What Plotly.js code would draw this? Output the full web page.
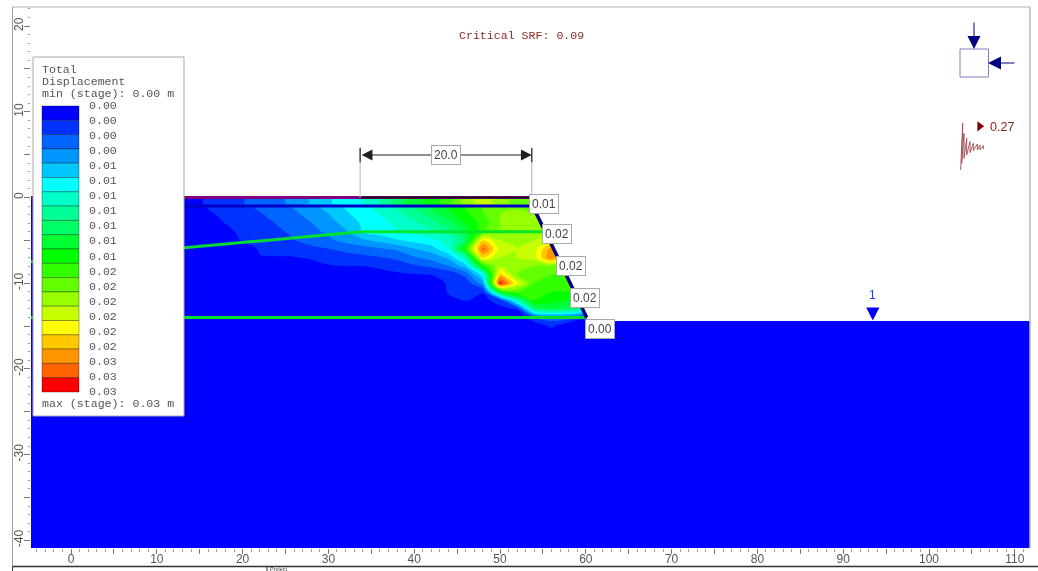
<!DOCTYPE html>
<html>
<head>
<meta charset="utf-8">
<script src="https://cdn.plot.ly/plotly-3.0.1.min.js"></script>
<style>html,body{margin:0;padding:0;background:#fff}#chart{width:1038px;height:571px;filter:blur(0.35px)}</style>
</head>
<body>
<div id="chart"></div>
<script>
// ---- data (metres) ----
const bandColors = ['#0000ff','#0032ff','#0064ff','#0096ff','#00c8ff','#00ffff','#00ffc8','#00ff96','#00ff64','#00ff32',
                    '#00ff00','#32ff00','#64ff00','#96ff00','#c8ff00','#ffff00','#ffc800','#ff9600','#ff6400','#ff0000'];
const bandLabels = ['0.00','0.00','0.00','0.00','0.01','0.01','0.01','0.01','0.01','0.01','0.01',
                    '0.02','0.02','0.02','0.02','0.02','0.02','0.03','0.03','0.03'];
const gridX = [12,14,16,18,20,22,24,26,28,30,32,34,36,38,40,42,44,46,48,50,52,54,56,58,60];
const gridY = [0,-0.9,-1.1,-2,-3,-4,-5,-6,-7,-8,-9,-10,-11,-12,-13,-14,-15,-16];
// displacement, in contour-interval units (one unit = one legend band)
const dispZ = [
[0,0.5,1.2,1.6,1.95,2.3,2.7,3.3,4.1,4.9,5.3,6,7,8.5,9.5,10.5,11.5,13.5,14.5,13.5,12.5,12,12,12,12],
[0,0.5,1.2,1.6,1.95,2.3,2.7,3.3,4.1,4.9,5.3,6,7,8.5,9.5,10.5,11.5,13.5,14.5,13.5,12.5,12,12,12,12],
[0,0.5,1.06,1.42,1.79,2.18,2.62,3.08,3.73,4.4,5.11,5.74,6.43,7.2,8.08,9.3,10.15,11.07,12.2,12.5,12.8,12.5,12,12,12],
[0,0.45,0.85,1.2,1.56,1.9,2.32,2.78,3.32,3.93,4.8,5.43,6,6.68,7.45,8.4,9.53,10.73,11.87,13,13.5,13,13,13,13],
[0,0.3,0.7,1.02,1.37,1.7,2.05,2.51,2.97,3.57,4.33,5.16,5.69,6.23,6.8,7.55,8.53,10.08,11.4,13,13.2,13.2,13,13,13],
[0,0.15,0.5,0.8,1.17,1.49,1.81,2.2,2.69,3.21,3.86,5.03,5.47,5.92,6.35,6.78,7.47,9.14,12,13,13.5,13.5,14,13,13],
[0,0,0,0.7,1.05,1.36,1.66,1.96,2.4,2.8,3.3,3.8,4.33,4.9,5.35,5.78,6.36,8.5,16,14,14,14,14.5,13,13],
[0,0,0,0,0.5,1.1,1.3,1.5,1.75,1.98,2.3,2.55,2.9,3.2,3.95,4.5,6,11,18.5,14.5,14,14.5,17.5,14,13],
[0,0,0,0,0,0.95,0.95,0.95,1.15,1.3,1.5,1.75,1.95,2.2,2.9,3.4,4.2,7,16,14,14,14.5,18,14,13],
[0,0,0,0,0,0,0,0,0.5,0.95,1.02,1.02,1.2,1.5,1.85,2.2,3,4.5,11,14,13.5,13,13,12.5,12.5],
[0,0,0,0,0,0,0,0,0,0,0,0.3,0.6,0.8,0.92,1.02,1.2,2.3,5.5,16.5,13,12.5,12,12,12],
[0,0,0,0,0,0,0,0,0,0,0,0,0,0,0.3,0.6,1.1,1.4,3.5,19.6,15,12,11.5,11.5,11.5],
[0,0,0,0,0,0,0,0,0,0,0,0,0,0,0,0.2,1.1,1.3,1.05,10,12,12,11,11,11],
[0,0,0,0,0,0,0,0,0,0,0,0,0,0,0,0,0.8,1.05,0.8,1.3,7,11,10.5,10,10],
[0,0,0,0,0,0,0,0,0,0,0,0,0,0,0,0,0,0.2,0,0.8,1.1,8,9,8.5,7],
[0,0,0,0,0,0,0,0,0,0,0,0,0,0,0,0,0,0,0,0,0,2,2.5,2.5,1],
[0,0,0,0,0,0,0,0,0,0,0,0,0,0,0,0,0,0,0,0,0,0,1.3,0,0],
[0,0,0,0,0,0,0,0,0,0,0,0,0,0,0,0,0,0,0,0,0,0,0,0,0]
];
const soilX = [-4.66,53.7,54.3,56.6,58.4,60.1,60.3,111.77,111.77,-4.66];
const soilY = [0,0,-2,-6.7,-10.4,-14,-14.4,-14.4,-40.9,-40.9];
const airX = [53.7,53.7,54.3,56.6,58.4,60.1,60.3,63,63];
const airY = [1,0,-2,-6.7,-10.4,-14,-14.4,-14.4,1];
const slopeX = [53.7,54.3,56.6,58.4,60.1];
const slopeY = [-1,-2,-6.7,-10.4,-14];
const surfaceX = [-4.66,53.7];
const surfaceY = [0,0];
const loadX = [33.7,53.7];
const loadY = [0,0];
const layerTopX = [-4.66,53.7];
const layerTopY = [-1,-1];
const layerMidX = [-4.66,13.9,33.7,55];
const layerMidY = [-7.5,-5.8,-4,-4];
const layerLowX = [-4.66,60];
const layerLowY = [-14,-14];
const seismicX = [103.69,103.93,103.81,104.08,104.08,104.39,104.39,104.78,104.78,105.17,105.17,105.64,105.64,105.95,105.95,106.34,106.34];
const seismicY = [3.21,8.66,3.99,7.49,4.58,6.91,4.96,6.52,5.24,6.33,5.47,6.25,5.55,6.13,5.55,6.05,5.66];
const waterMarkX = [92.68,94.22,93.45];
const waterMarkY = [-12.85,-12.85,-14.35];
const edgeLabels = ['0.01','0.02','0.02','0.02','0.00'];
const edgeLabelX = [55.1,56.7,58.3,59.9,61.6];
const edgeLabelY = [-0.8,-4.2,-8,-11.7,-15.3];
const xTicks = [0,5,10,15,20,25,30,35,40,45,50,55,60,65,70,75,80,85,90,95,100,105,110];
const yTicks = [-40,-35,-30,-25,-20,-15,-10,-5,0,5,10,15,20];

// ---- layout helpers ----
const W = 1038, H = 571, L = 31, R = 1030, T = 7, B = 548;
const px = x => (x - L) / (R - L);
const py = y => (B - y) / (B - T);
const mono = 'Liberation Mono, monospace';
const sans = 'Liberation Sans, Arial, sans-serif';
const steps = [];
bandColors.forEach((c, i) => { steps.push([i / 20, c]); steps.push([(i + 1) / 20, c]); });

const line = (x, y, color, width) => ({x, y, type: 'scatter', mode: 'lines', line: {color, width}, hoverinfo: 'skip', showlegend: false});

const traces = [
  {type: 'contour', x: gridX, y: gridY, z: dispZ, zmin: 0, zmax: 20, colorscale: steps, showscale: false,
   autocontour: false, contours: {start: 1, end: 19, size: 1, coloring: 'fill', showlines: false},
   line: {width: 0}, hoverinfo: 'skip', showlegend: false},
  {x: airX, y: airY, type: 'scatter', mode: 'none', fill: 'toself', fillcolor: '#ffffff', hoverinfo: 'skip', showlegend: false},
  line(layerMidX, layerMidY, 'rgba(0,230,40,0.95)', 3),
  line(layerLowX, layerLowY, '#00e030', 3),
  line(layerTopX, layerTopY, '#0000c8', 3),
  line(surfaceX, surfaceY, '#800080', 3),
  line(loadX, loadY, '#201020', 2),
  line(slopeX, slopeY, '#000080', 3.5),
  line(seismicX, seismicY, '#a04a50', 0.9),
  {x: [105.9], y: [8.3], type: 'scatter', mode: 'markers', marker: {symbol: 'triangle-right', size: 9, color: '#800000'}, hoverinfo: 'skip', showlegend: false},
  {x: waterMarkX, y: waterMarkY, type: 'scatter', mode: 'none', fill: 'toself', fillcolor: '#0000ff', hoverinfo: 'skip', showlegend: false}
];

const shapes = [
  {type: 'path', xref: 'x', yref: 'y', layer: 'below', fillcolor: '#0000ff', line: {width: 0},
   path: 'M' + soilX.map((x, i) => x + ' ' + soilY[i]).join(' L') + ' Z'},
  // frame
  {type: 'line', xref: 'paper', yref: 'paper', x0: px(12.5), x1: px(1030), y0: py(7), y1: py(7), line: {color: '#b0b0b0', width: 1}},
  {type: 'line', xref: 'paper', yref: 'paper', x0: px(12.5), x1: px(12.5), y0: py(7), y1: py(566), line: {color: '#a0a0a0', width: 1}},
  {type: 'line', xref: 'paper', yref: 'paper', x0: px(1030), x1: px(1030), y0: py(7), y1: py(548), line: {color: '#b8b8b8', width: 1.5}},
  {type: 'line', xref: 'paper', yref: 'paper', x0: px(12.5), x1: px(1038), y0: py(566.5), y1: py(566.5), line: {color: '#303030', width: 1.3}},
  {type: 'line', xref: 'paper', yref: 'paper', x0: px(12.5), x1: px(12.5), y0: py(566.5), y1: py(571), line: {color: '#303030', width: 1}},
  {type: 'line', xref: 'paper', yref: 'paper', x0: px(267), x1: px(267), y0: py(566.5), y1: py(571), line: {color: '#303030', width: 1}},
  // dimension witness lines
  {type: 'line', x0: 33.7, x1: 33.7, y0: 0, y1: 5.7, line: {color: '#c4c4c4', width: 1.2}},
  {type: 'line', x0: 53.7, x1: 53.7, y0: 0, y1: 5.7, line: {color: '#c4c4c4', width: 1.2}},
  {type: 'line', x0: 33.7, x1: 33.7, y0: 4.1, y1: 5.8, line: {color: '#303030', width: 1.3}},
  {type: 'line', x0: 53.7, x1: 53.7, y0: 4.1, y1: 5.8, line: {color: '#303030', width: 1.3}},
  // stress box
  {type: 'rect', xref: 'paper', yref: 'paper', x0: px(960), x1: px(988.5), y0: py(77), y1: py(49), line: {color: '#8080c8', width: 1}, fillcolor: '#ffffff'},
  // legend box
  {type: 'rect', xref: 'paper', yref: 'paper', x0: px(33), x1: px(184), y0: py(416), y1: py(57), line: {color: '#a8a8a8', width: 1}, fillcolor: '#ffffff'}
];
bandColors.forEach((c, i) => {
  const h = 286 / 20;
  shapes.push({type: 'rect', xref: 'paper', yref: 'paper', x0: px(42), x1: px(79),
    y0: py(106 + i * h), y1: py(106 + (i + 1) * h), fillcolor: c, line: {color: 'rgba(0,0,0,0.55)', width: 0.6}});
});

const noteP = (x, y, text, size, color, family, anchor) => ({xref: 'paper', yref: 'paper', x: px(x), y: py(y), text, showarrow: false,
  xanchor: anchor || 'left', yanchor: 'middle', font: {size, color, family}});
const annotations = [
  noteP(521, 35.5, 'Critical SRF: 0.09', 11.6, '#8b2a2a', mono, 'center'),
  noteP(40, 69, 'Total', 11.6, '#555', mono),
  noteP(40, 81.5, 'Displacement', 11.6, '#555', mono),
  noteP(40, 93.5, 'min (stage): 0.00 m', 11.6, '#555', mono),
  noteP(40, 403.5, 'max (stage): 0.03 m', 11.6, '#555', mono),
  noteP(988, 127, '0.27', 12.5, '#8b2020', sans),
  noteP(872.5, 295, '1', 12, '#2040e0', sans, 'center'),
  noteP(268, 568.8, 'Project', 5.5, '#444', sans),
  // dimension arrow and label
  {x: 53.7, y: 4.96, ax: 33.7, ay: 4.96, xref: 'x', yref: 'y', axref: 'x', ayref: 'y', text: '', showarrow: true,
   arrowhead: 2, arrowside: 'end+start', arrowsize: 1.8, arrowwidth: 1.2, arrowcolor: '#202020', standoff: 0, startstandoff: 0},
  {x: 43.7, y: 4.96, xref: 'x', yref: 'y', text: '20.0', showarrow: false, bgcolor: '#fff', bordercolor: '#aaa', borderwidth: 1, borderpad: 2,
   font: {size: 12, color: '#444', family: sans}},
  // stress arrows
  {xref: 'paper', yref: 'paper', axref: 'paper', ayref: 'paper', x: px(974), y: py(49), ax: px(974), ay: py(21), text: '', showarrow: true,
   arrowhead: 2, arrowsize: 2.6, arrowwidth: 1, arrowcolor: '#000080', standoff: 0},
  {xref: 'paper', yref: 'paper', axref: 'paper', ayref: 'paper', x: px(988), y: py(63), ax: px(1016), ay: py(63), text: '', showarrow: true,
   arrowhead: 2, arrowsize: 2.6, arrowwidth: 1, arrowcolor: '#000080', standoff: 0}
];
bandLabels.forEach((t, i) => annotations.push(noteP(87, 105.5 + i * 286 / 19, t, 11.6, '#555', mono)));
edgeLabels.forEach((t, i) => annotations.push({x: edgeLabelX[i], y: edgeLabelY[i], xref: 'x', yref: 'y', text: t, showarrow: false,
  bgcolor: '#fff', bordercolor: '#aaa', borderwidth: 1, borderpad: 2, font: {size: 12, color: '#444', family: sans}}));

const axisBase = {showgrid: false, zeroline: false, showline: false, ticks: 'outside', tickwidth: 1, tickcolor: '#777',
  tickfont: {size: 12, color: '#555', family: sans}, tickmode: 'array',
  minor: {dtick: 1, ticks: 'outside', ticklen: 2.5, tickwidth: 1, tickcolor: '#999', showgrid: false}};

const layout = {
  width: W, height: H, margin: {l: L, r: W - R, t: T, b: H - B}, paper_bgcolor: '#fff', plot_bgcolor: '#fff', showlegend: false,
  xaxis: Object.assign({}, axisBase, {range: [-4.662, 111.77], ticklen: 5, ticklabelstandoff: -5, tickvals: xTicks, ticktext: xTicks.map(v => v % 10 === 0 ? String(v) : '')}),
  yaxis: Object.assign({}, axisBase, {range: [-40.9, 22.23], ticklen: 6, ticklabelstandoff: -4, tickvals: yTicks, ticktext: yTicks.map(v => v % 10 === 0 ? String(v) : ''), tickangle: -90}),
  shapes, annotations
};
Plotly.newPlot('chart', traces, layout, {staticPlot: true, displayModeBar: false});
</script>
</body>
</html>
